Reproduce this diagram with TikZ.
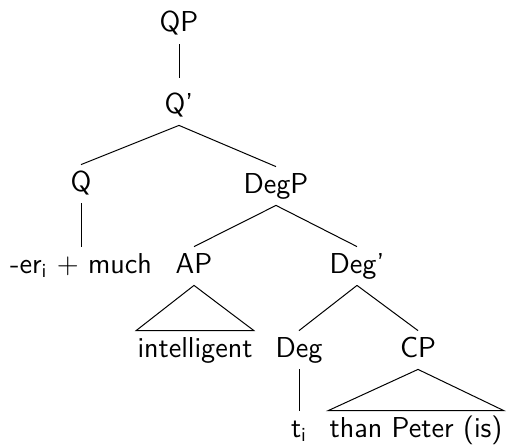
\documentclass[tikz,border=0pt]{standalone}
\begin{document}
\begin{tikzpicture}[x=0.5pt,y=-0.5pt,
  lbl/.style={anchor=base,font=\fontsize{14.4}{17}\selectfont\sffamily,
    text height=9.5pt,text depth=2.5pt,inner ysep=3.5pt,inner xsep=0pt},
  leaf/.style={lbl,inner xsep=0.5pt},
  edge/.style={draw=black,line width=0.5pt}]
\useasboundingbox (0,0) rectangle (506,444);
\node[lbl] (QP) at (179,32) {QP};
\node[lbl] (Qb) at (179,113) {Q'};
\node[lbl] (Q) at (81,191) {Q};
\node[lbl] (DegP) at (276,193) {DegP};
\node[lbl] (much) at (81,273) {-er\textsubscript{i} $+$ much};
\node[lbl] (AP) at (194,273) {AP};
\node[lbl] (Degb) at (357,273) {Deg'};
\node[leaf] (intel) at (195,357) {intelligent};
\node[lbl] (Deg) at (299,357) {Deg};
\node[lbl] (CP) at (418,357) {CP};
\node[lbl] (t) at (299,437) {t\textsubscript{i}};
\node[leaf] (than) at (416,437) {than Peter (is)};
\draw[edge,shorten >=4.5pt] (QP.south) -- (Qb.north);
\draw[edge] (Qb.south) -- (Q.north);
\draw[edge] (Qb.south) -- (DegP.north);
\draw[edge] (Q.south) -- (much.north);
\draw[edge] (DegP.south) -- (AP.north);
\draw[edge] (DegP.south) -- (Degb.north);
\draw[edge] (AP.south) -- (intel.north west) -- (intel.north east) -- cycle;
\draw[edge] (Degb.south) -- (Deg.north);
\draw[edge] (Degb.south) -- (CP.north);
\draw[edge] (Deg.south) -- (t.north);
\draw[edge] (CP.south) -- (than.north west) -- (than.north east) -- cycle;
\end{tikzpicture}
\end{document}
